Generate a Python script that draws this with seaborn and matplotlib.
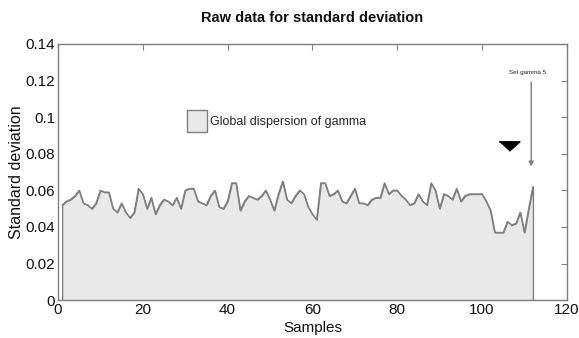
import numpy as np
import pandas as pd
import seaborn as sns
import matplotlib
matplotlib.use("Agg")
import matplotlib.pyplot as plt
from matplotlib.patches import Patch
from matplotlib.ticker import FuncFormatter

# Standard deviation of gamma for each sample
samples = list(range(1, 113))
std_dev = [
    0.052, 0.054, 0.055, 0.057, 0.060, 0.053, 0.052, 0.050, 0.053, 0.060,
    0.059, 0.059, 0.050, 0.048, 0.053, 0.048, 0.045, 0.048, 0.061, 0.058,
    0.050, 0.056, 0.047, 0.052, 0.055, 0.054, 0.052, 0.056, 0.050, 0.060,
    0.061, 0.061, 0.054, 0.053, 0.052, 0.057, 0.060, 0.051, 0.050, 0.054,
    0.064, 0.064, 0.049, 0.054, 0.057, 0.056, 0.055, 0.057, 0.060, 0.055,
    0.049, 0.058, 0.065, 0.055, 0.053, 0.057, 0.060, 0.058, 0.051, 0.047,
    0.044, 0.064, 0.064, 0.057, 0.058, 0.060, 0.054, 0.053, 0.057, 0.061,
    0.053, 0.053, 0.052, 0.055, 0.056, 0.056, 0.064, 0.058, 0.060, 0.060,
    0.057, 0.055, 0.052, 0.053, 0.058, 0.054, 0.052, 0.064, 0.060, 0.050,
    0.058, 0.057, 0.055, 0.061, 0.054, 0.057, 0.058, 0.058, 0.058, 0.058,
    0.054, 0.049, 0.037, 0.037, 0.037, 0.043, 0.041, 0.042, 0.048, 0.037,
    0.050, 0.062,
]
legend_label = "Global dispersion of gamma"
note_text = "Set gamma 5"
note_sample, note_tip, note_tail = 111.6, 0.073, 0.119
marker_sample, marker_value = 106.4, 0.084
x_ticks = [0, 20, 40, 60, 80, 100, 120]
y_ticks = [0, 0.02, 0.04, 0.06, 0.08, 0.1, 0.12, 0.14]

df = pd.DataFrame({"Samples": samples, "Standard deviation": std_dev})

sns.set_theme(style="white")
plt.rcParams["font.family"] = ["Liberation Sans", "DejaVu Sans"]

edge = "#7f7f7f"
fill = "#e9e9e9"

fig = plt.figure(figsize=(5.79, 3.38), dpi=100)
ax = fig.add_axes([0.100, 0.112, 0.879, 0.758])

ax.fill_between(df["Samples"], df["Standard deviation"], 0,
                facecolor=fill, edgecolor=edge, linewidth=1.0)
sns.lineplot(data=df, x="Samples", y="Standard deviation", ax=ax,
             color=edge, linewidth=1.0)

ax.set_xlim(0, 120)
ax.set_ylim(0, 0.14)
ax.set_xticks(x_ticks)
ax.set_yticks(y_ticks)
ax.yaxis.set_major_formatter(FuncFormatter(lambda v, p: "%g" % round(v, 4)))

for s in ax.spines.values():
    s.set_visible(True)
    s.set_color(edge)
    s.set_linewidth(1.0)
ax.tick_params(direction="in", length=4, width=0.8, color=edge,
               top=True, right=True, labelsize=11, labelcolor="#111111", pad=2)

ax.set_xlabel("Samples", fontsize=11, labelpad=3, color="#111111")
ax.set_ylabel("Standard deviation", fontsize=11.5, labelpad=1, color="#111111")
ax.set_title("Raw data for standard deviation", fontsize=10.5, fontweight="bold",
             pad=16, color="#111111")

handle = Patch(facecolor=fill, edgecolor=edge, linewidth=1.0)
ax.legend([handle], [legend_label], loc="center left",
          bbox_to_anchor=(0.253, 0.70), frameon=False, fontsize=9,
          handlelength=1.6, handleheight=2.4, handletextpad=0.3,
          borderpad=0, borderaxespad=0)

ax.annotate("", xy=(note_sample, note_tip), xytext=(note_sample, note_tail),
            arrowprops=dict(arrowstyle="-|>", color=edge, lw=1.0,
                            mutation_scale=7, shrinkA=0, shrinkB=0))
ax.text(note_sample - 0.8, note_tail + 0.004, note_text, fontsize=4.5,
        ha="center", va="bottom", color="#222222")

tri = [(-1.0, 0.45), (1.0, 0.45), (0.0, -0.45)]
ax.plot([marker_sample], [marker_value], marker=tri, markersize=15,
        color="black", linestyle="none")

fig.savefig("out.png", dpi=100)
